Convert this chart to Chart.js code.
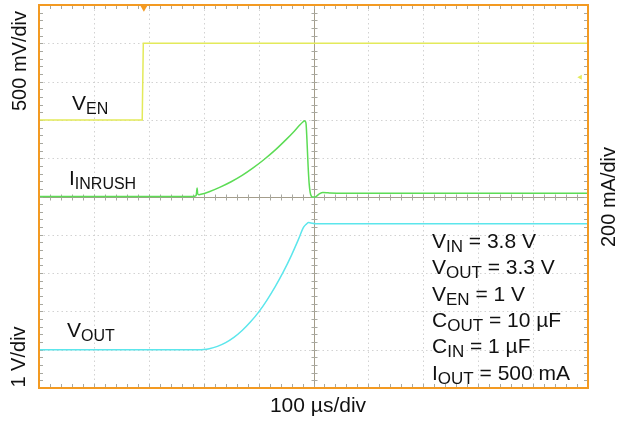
<!DOCTYPE html>
<html>
<head>
<meta charset="utf-8">
<script src="https://cdn.jsdelivr.net/npm/chart.js@4.4.1/dist/chart.umd.min.js"></script>
<style>
html,body{margin:0;padding:0;background:#fff;}
#wrap{width:619px;height:421px;position:relative;}
</style>
</head>
<body>
<div id="wrap"><canvas id="c" width="619" height="421"></canvas></div>
<script>
// ---- data (time in µs, 100 µs/div, trigger at centre) ----
const timeEN = [-500, -312, -310, 500];
const valuesEN = [0, 0, 1.0, 1.0];               // V, 500 mV/div

const timeInrush = [-500, -220, -214, -213, -212, -211, -209, -207, -190, -170, -150, -130, -110, -90, -70, -50, -35, -25, -19, -17, -15, -13.5, -12, -10, -8, -6, -4, -2, 3, 10, 17, 24, 30, 60, 500];
const valuesInrush = [0, 0, 4, 20, 45, 15, 9, 10, 25, 49, 77, 110, 149, 193, 242, 297, 341, 373, 390, 395, 392, 378, 300, 170, 70, 20, 2, -2, -2, 12, 21, 20, 18, 17, 17]; // mA, 200 mA/div

const timeOut = [-500, -215, -210, -200, -190, -175, -160, -145, -130, -115, -100, -85, -70, -55, -40, -28, -18, -13, -9, -5, 5, 500];
const valuesOut = [0, 0, 0, 0.006, 0.026, 0.087, 0.185, 0.322, 0.50, 0.72, 0.98, 1.29, 1.64, 2.03, 2.47, 2.86, 3.2, 3.28, 3.32, 3.31, 3.29, 3.29]; // V, 1 V/div

const triggerTime = [-309];
const triggerLevelEN = [0.557];

const timeDivisions = [-500, -400, -300, -200, -100, 0, 100, 200, 300, 400, 500];
const voutDivisions = [-1, 0, 1, 2, 3, 4, 5, 6, 7, 8, 9];

const axisTexts = ['500 mV/div', '1 V/div', '200 mA/div', '100 \u00b5s/div'];
const traceLabels = [['V', 'EN'], ['I', 'INRUSH'], ['V', 'OUT']];
const conditions = [
  ['V', 'IN', ' = 3.8 V'],
  ['V', 'OUT', ' = 3.3 V'],
  ['V', 'EN', ' = 1 V'],
  ['C', 'OUT', ' = 10 \u00b5F'],
  ['C', 'IN', ' = 1 \u00b5F'],
  ['I', 'OUT', ' = 500 mA']
];

const zip = (xs, ys) => xs.map((x, i) => ({x: x, y: ys[i]}));

const ORANGE = '#f39a22';
const YELLOW = '#e3ea5a';
const GREEN = '#5cdc55';
const CYAN = '#5ce6ec';
const FONT = '"Liberation Sans", Arial, Helvetica, sans-serif';

const gridPlugin = {
  id: 'scopeGrid',
  beforeDatasetsDraw(chart) {
    const ctx = chart.ctx, a = chart.chartArea;
    const xs = chart.scales.x, ys = chart.scales.yOUT;
    ctx.save();
    ctx.lineWidth = 1;
    // dotted division lines
    ctx.strokeStyle = '#d2d2d2';
    ctx.setLineDash([1.5, 3]);
    timeDivisions.slice(1, -1).forEach(t => {
      if (t === 0) return;
      const px = Math.round(xs.getPixelForValue(t)) + 0.5;
      ctx.beginPath(); ctx.moveTo(px, a.top); ctx.lineTo(px, a.bottom); ctx.stroke();
    });
    voutDivisions.slice(1, -1).forEach(v => {
      if (v === 4) return;
      const py = Math.round(ys.getPixelForValue(v)) + 0.5;
      ctx.beginPath(); ctx.moveTo(a.left, py); ctx.lineTo(a.right, py); ctx.stroke();
    });
    ctx.setLineDash([]);
    // centre cross
    ctx.strokeStyle = '#a49d8b';
    const cx = Math.round(xs.getPixelForValue(0)) + 0.5;
    const cy = Math.round(ys.getPixelForValue(4)) + 0.5;
    ctx.beginPath(); ctx.moveTo(cx, a.top); ctx.lineTo(cx, a.bottom); ctx.stroke();
    ctx.beginPath(); ctx.moveTo(a.left, cy); ctx.lineTo(a.right, cy); ctx.stroke();
    // minor ticks
    ctx.strokeStyle = '#a8a8a0';
    for (let i = 0; i <= 50; i++) {
      const t = -500 + i * 20;
      const px = Math.round(xs.getPixelForValue(t)) + 0.5;
      ctx.beginPath();
      ctx.moveTo(px, a.top); ctx.lineTo(px, a.top + 4);
      ctx.moveTo(px, a.bottom - 4); ctx.lineTo(px, a.bottom);
      ctx.moveTo(px, cy - 3); ctx.lineTo(px, cy + 3);
      ctx.stroke();
    }
    for (let i = 0; i <= 50; i++) {
      const v = -1 + i * 0.2;
      const py = Math.round(ys.getPixelForValue(v)) + 0.5;
      ctx.beginPath();
      ctx.moveTo(a.left, py); ctx.lineTo(a.left + 4, py);
      ctx.moveTo(a.right - 4, py); ctx.lineTo(a.right, py);
      ctx.moveTo(cx - 3, py); ctx.lineTo(cx + 3, py);
      ctx.stroke();
    }
    ctx.restore();
  },
  afterDatasetsDraw(chart) {
    const ctx = chart.ctx, a = chart.chartArea;
    ctx.save();
    ctx.strokeStyle = ORANGE;
    ctx.lineWidth = 2;
    ctx.strokeRect(a.left, a.top, a.right - a.left, a.bottom - a.top);
    ctx.restore();
  }
};

function subText(ctx, x, y, main, sub, rest, size, subSize) {
  ctx.font = size + 'px ' + FONT;
  ctx.fillText(main, x, y);
  let w = ctx.measureText(main).width;
  ctx.font = subSize + 'px ' + FONT;
  ctx.fillText(sub, x + w, y + 4);
  w += ctx.measureText(sub).width;
  if (rest) {
    ctx.font = size + 'px ' + FONT;
    ctx.fillText(rest, x + w, y);
  }
}

const textPlugin = {
  id: 'scopeText',
  afterDraw(chart) {
    const ctx = chart.ctx;
    ctx.save();
    ctx.fillStyle = '#111';
    ctx.textBaseline = 'alphabetic';
    ctx.textAlign = 'left';
    // rotated axis texts
    ctx.font = '20px ' + FONT;
    const rot = (txt, x, y) => {
      ctx.save(); ctx.translate(x, y); ctx.rotate(-Math.PI / 2);
      ctx.textAlign = 'center'; ctx.textBaseline = 'middle';
      ctx.fillText(txt, 0, 0); ctx.restore();
    };
    rot(axisTexts[0], 20, 61);
    rot(axisTexts[1], 19, 357);
    rot(axisTexts[2], 609, 197);
    ctx.font = '21px ' + FONT;
    ctx.textAlign = 'center';
    ctx.fillText(axisTexts[3], 318, 412);
    ctx.textAlign = 'left';
    // trace labels
    subText(ctx, 72, 110, traceLabels[0][0], traceLabels[0][1], '', 21, 16);
    subText(ctx, 69, 185, traceLabels[1][0], traceLabels[1][1], '', 21, 16);
    subText(ctx, 67, 337, traceLabels[2][0], traceLabels[2][1], '', 21, 16);
    // conditions
    conditions.forEach((c, i) => {
      subText(ctx, 432, 248 + i * 26.3, c[0], c[1], c[2], 21, 17);
    });
    ctx.restore();
  }
};

new Chart(document.getElementById('c'), {
  type: 'scatter',
  data: {
    datasets: [
      {label: 'VEN', data: zip(timeEN, valuesEN), yAxisID: 'yEN', showLine: true, borderColor: YELLOW, borderWidth: 1.5, pointRadius: 0, tension: 0},
      {label: 'IINRUSH', data: zip(timeInrush, valuesInrush), yAxisID: 'yI', showLine: true, borderColor: GREEN, borderWidth: 1.5, pointRadius: 0, cubicInterpolationMode: 'monotone'},
      {label: 'VOUT', data: zip(timeOut, valuesOut), yAxisID: 'yOUT', showLine: true, borderColor: CYAN, borderWidth: 1.5, pointRadius: 0, cubicInterpolationMode: 'monotone'},
      {label: 'trigger', data: zip(triggerTime, [1.47]), yAxisID: 'yEN', showLine: false, pointStyle: 'triangle', rotation: 180, pointRadius: 4.5, backgroundColor: ORANGE, borderColor: ORANGE, borderWidth: 0, clip: false},
      {label: 'level', data: zip([486], triggerLevelEN), yAxisID: 'yEN', showLine: false, pointStyle: 'triangle', rotation: -90, pointRadius: 3, backgroundColor: YELLOW, borderColor: YELLOW, borderWidth: 0, clip: false}
    ]
  },
  options: {
    responsive: false,
    animation: false,
    devicePixelRatio: 1,
    layout: {padding: {left: 39, top: 5, right: 31, bottom: 33}},
    plugins: {legend: {display: false}, tooltip: {enabled: false}},
    scales: {
      x: {type: 'linear', min: -500, max: 500, display: false},
      yEN: {type: 'linear', min: -3.5, max: 1.5, display: false},
      yI: {type: 'linear', min: -1000, max: 1000, display: false},
      yOUT: {type: 'linear', min: -1, max: 9, display: false}
    }
  },
  plugins: [gridPlugin, textPlugin]
});
</script>
</body>
</html>
